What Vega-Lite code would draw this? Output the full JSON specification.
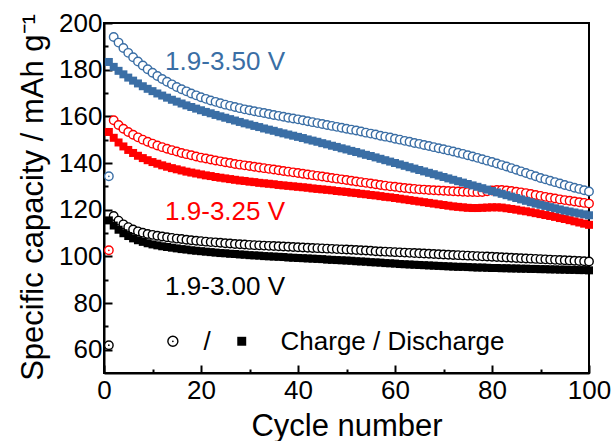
{
"$schema":"https://vega.github.io/schema/vega-lite/v6.json",
"width":485,"height":350,
"autosize":{"type":"none"},
"padding":{"left":104,"top":23,"right":24,"bottom":68},
"config":{"view":{"stroke":"#000","strokeWidth":2},"font":"Liberation Sans"},
"datasets":{
"b_c":[{"c":1,"v":134.3},{"c":2,"v":194},{"c":3,"v":191.6},{"c":4,"v":189.3},{"c":5,"v":187.2},{"c":6,"v":185.3},{"c":7,"v":183.5},{"c":8,"v":181.8},{"c":9,"v":180.2},{"c":10,"v":178.7},{"c":11,"v":177.3},{"c":12,"v":176.0},{"c":13,"v":174.8},{"c":14,"v":173.7},{"c":15,"v":172.6},{"c":16,"v":171.6},{"c":17,"v":170.7},{"c":18,"v":169.8},{"c":19,"v":169.0},{"c":20,"v":168.2},{"c":21,"v":167.5},{"c":22,"v":166.8},{"c":23,"v":166.2},{"c":24,"v":165.6},{"c":25,"v":165.0},{"c":26,"v":164.5},{"c":27,"v":164.0},{"c":28,"v":163.5},{"c":29,"v":163.0},{"c":30,"v":162.6},{"c":31,"v":162.2},{"c":32,"v":161.8},{"c":33,"v":161.4},{"c":34,"v":161.0},{"c":35,"v":160.6},{"c":36,"v":160.2},{"c":37,"v":159.8},{"c":38,"v":159.4},{"c":39,"v":159.1},{"c":40,"v":158.7},{"c":41,"v":158.3},{"c":42,"v":157.9},{"c":43,"v":157.5},{"c":44,"v":157.1},{"c":45,"v":156.7},{"c":46,"v":156.3},{"c":47,"v":155.9},{"c":48,"v":155.5},{"c":49,"v":155.1},{"c":50,"v":154.7},{"c":51,"v":154.3},{"c":52,"v":153.9},{"c":53,"v":153.5},{"c":54,"v":153.0},{"c":55,"v":152.6},{"c":56,"v":152.2},{"c":57,"v":151.7},{"c":58,"v":151.3},{"c":59,"v":150.9},{"c":60,"v":150.4},{"c":61,"v":150.0},{"c":62,"v":149.5},{"c":63,"v":149.1},{"c":64,"v":148.6},{"c":65,"v":148.2},{"c":66,"v":147.7},{"c":67,"v":147.3},{"c":68,"v":146.8},{"c":69,"v":146.3},{"c":70,"v":145.9},{"c":71,"v":145.4},{"c":72,"v":144.9},{"c":73,"v":144.4},{"c":74,"v":143.9},{"c":75,"v":143.3},{"c":76,"v":142.8},{"c":77,"v":142.2},{"c":78,"v":141.6},{"c":79,"v":141.0},{"c":80,"v":140.4},{"c":81,"v":139.8},{"c":82,"v":139.1},{"c":83,"v":138.5},{"c":84,"v":137.8},{"c":85,"v":137.1},{"c":86,"v":136.4},{"c":87,"v":135.7},{"c":88,"v":135.0},{"c":89,"v":134.3},{"c":90,"v":133.6},{"c":91,"v":133.0},{"c":92,"v":132.4},{"c":93,"v":131.8},{"c":94,"v":131.2},{"c":95,"v":130.6},{"c":96,"v":130.0},{"c":97,"v":129.4},{"c":98,"v":128.9},{"c":99,"v":128.3},{"c":100,"v":127.8}],
"b_d":[{"c":1,"v":183.3},{"c":2,"v":181.2},{"c":3,"v":179.5},{"c":4,"v":178.0},{"c":5,"v":176.6},{"c":6,"v":175.3},{"c":7,"v":174.1},{"c":8,"v":172.9},{"c":9,"v":171.8},{"c":10,"v":170.8},{"c":11,"v":169.8},{"c":12,"v":168.9},{"c":13,"v":168.0},{"c":14,"v":167.1},{"c":15,"v":166.3},{"c":16,"v":165.5},{"c":17,"v":164.7},{"c":18,"v":164.0},{"c":19,"v":163.3},{"c":20,"v":162.6},{"c":21,"v":161.9},{"c":22,"v":161.3},{"c":23,"v":160.6},{"c":24,"v":160.0},{"c":25,"v":159.4},{"c":26,"v":158.8},{"c":27,"v":158.2},{"c":28,"v":157.6},{"c":29,"v":157.0},{"c":30,"v":156.5},{"c":31,"v":155.9},{"c":32,"v":155.4},{"c":33,"v":154.8},{"c":34,"v":154.3},{"c":35,"v":153.8},{"c":36,"v":153.2},{"c":37,"v":152.7},{"c":38,"v":152.2},{"c":39,"v":151.7},{"c":40,"v":151.2},{"c":41,"v":150.7},{"c":42,"v":150.1},{"c":43,"v":149.6},{"c":44,"v":149.1},{"c":45,"v":148.5},{"c":46,"v":148.0},{"c":47,"v":147.4},{"c":48,"v":146.9},{"c":49,"v":146.3},{"c":50,"v":145.8},{"c":51,"v":145.2},{"c":52,"v":144.7},{"c":53,"v":144.1},{"c":54,"v":143.5},{"c":55,"v":143.0},{"c":56,"v":142.4},{"c":57,"v":141.8},{"c":58,"v":141.2},{"c":59,"v":140.6},{"c":60,"v":140.0},{"c":61,"v":139.4},{"c":62,"v":138.8},{"c":63,"v":138.2},{"c":64,"v":137.6},{"c":65,"v":137.0},{"c":66,"v":136.4},{"c":67,"v":135.8},{"c":68,"v":135.2},{"c":69,"v":134.6},{"c":70,"v":134.0},{"c":71,"v":133.4},{"c":72,"v":132.8},{"c":73,"v":132.2},{"c":74,"v":131.6},{"c":75,"v":131.0},{"c":76,"v":130.4},{"c":77,"v":129.8},{"c":78,"v":129.2},{"c":79,"v":128.6},{"c":80,"v":128.0},{"c":81,"v":127.4},{"c":82,"v":126.8},{"c":83,"v":126.2},{"c":84,"v":125.6},{"c":85,"v":125.0},{"c":86,"v":124.4},{"c":87,"v":123.8},{"c":88,"v":123.2},{"c":89,"v":122.6},{"c":90,"v":122.1},{"c":91,"v":121.6},{"c":92,"v":121.1},{"c":93,"v":120.6},{"c":94,"v":120.1},{"c":95,"v":119.6},{"c":96,"v":119.2},{"c":97,"v":118.8},{"c":98,"v":118.4},{"c":99,"v":118.0},{"c":100,"v":117.6}],
"r_c":[{"c":1,"v":102.6},{"c":2,"v":158.3},{"c":3,"v":156.3},{"c":4,"v":154.7},{"c":5,"v":153.3},{"c":6,"v":152.1},{"c":7,"v":151.0},{"c":8,"v":150.0},{"c":9,"v":149.1},{"c":10,"v":148.3},{"c":11,"v":147.5},{"c":12,"v":146.8},{"c":13,"v":146.1},{"c":14,"v":145.5},{"c":15,"v":144.9},{"c":16,"v":144.3},{"c":17,"v":143.8},{"c":18,"v":143.3},{"c":19,"v":142.8},{"c":20,"v":142.3},{"c":21,"v":141.9},{"c":22,"v":141.5},{"c":23,"v":141.1},{"c":24,"v":140.7},{"c":25,"v":140.3},{"c":26,"v":140.0},{"c":27,"v":139.6},{"c":28,"v":139.3},{"c":29,"v":139.0},{"c":30,"v":138.7},{"c":31,"v":138.4},{"c":32,"v":138.1},{"c":33,"v":137.8},{"c":34,"v":137.5},{"c":35,"v":137.2},{"c":36,"v":136.9},{"c":37,"v":136.6},{"c":38,"v":136.3},{"c":39,"v":136.0},{"c":40,"v":135.7},{"c":41,"v":135.4},{"c":42,"v":135.1},{"c":43,"v":134.8},{"c":44,"v":134.5},{"c":45,"v":134.2},{"c":46,"v":133.9},{"c":47,"v":133.6},{"c":48,"v":133.3},{"c":49,"v":133.0},{"c":50,"v":132.7},{"c":51,"v":132.4},{"c":52,"v":132.1},{"c":53,"v":131.8},{"c":54,"v":131.5},{"c":55,"v":131.2},{"c":56,"v":130.9},{"c":57,"v":130.6},{"c":58,"v":130.3},{"c":59,"v":130.0},{"c":60,"v":129.8},{"c":61,"v":129.5},{"c":62,"v":129.3},{"c":63,"v":129.1},{"c":64,"v":128.9},{"c":65,"v":128.7},{"c":66,"v":128.6},{"c":67,"v":128.4},{"c":68,"v":128.3},{"c":69,"v":128.2},{"c":70,"v":128.1},{"c":71,"v":128.0},{"c":72,"v":127.9},{"c":73,"v":127.8},{"c":74,"v":127.7},{"c":75,"v":127.6},{"c":76,"v":127.6},{"c":77,"v":127.5},{"c":78,"v":127.6},{"c":79,"v":127.9},{"c":80,"v":128.2},{"c":81,"v":128.4},{"c":82,"v":128.4},{"c":83,"v":128.2},{"c":84,"v":128.0},{"c":85,"v":127.7},{"c":86,"v":127.4},{"c":87,"v":127.1},{"c":88,"v":126.7},{"c":89,"v":126.3},{"c":90,"v":125.9},{"c":91,"v":125.5},{"c":92,"v":125.1},{"c":93,"v":124.8},{"c":94,"v":124.4},{"c":95,"v":124.1},{"c":96,"v":123.8},{"c":97,"v":123.5},{"c":98,"v":123.2},{"c":99,"v":122.9},{"c":100,"v":122.6}],
"r_d":[{"c":1,"v":153.3},{"c":2,"v":150.8},{"c":3,"v":148.8},{"c":4,"v":147.1},{"c":5,"v":145.6},{"c":6,"v":144.3},{"c":7,"v":143.1},{"c":8,"v":142.1},{"c":9,"v":141.2},{"c":10,"v":140.4},{"c":11,"v":139.7},{"c":12,"v":139.0},{"c":13,"v":138.4},{"c":14,"v":137.8},{"c":15,"v":137.3},{"c":16,"v":136.8},{"c":17,"v":136.3},{"c":18,"v":135.9},{"c":19,"v":135.5},{"c":20,"v":135.1},{"c":21,"v":134.7},{"c":22,"v":134.4},{"c":23,"v":134.0},{"c":24,"v":133.7},{"c":25,"v":133.4},{"c":26,"v":133.1},{"c":27,"v":132.8},{"c":28,"v":132.5},{"c":29,"v":132.3},{"c":30,"v":132.0},{"c":31,"v":131.8},{"c":32,"v":131.5},{"c":33,"v":131.3},{"c":34,"v":131.1},{"c":35,"v":130.9},{"c":36,"v":130.6},{"c":37,"v":130.4},{"c":38,"v":130.2},{"c":39,"v":130.0},{"c":40,"v":129.8},{"c":41,"v":129.6},{"c":42,"v":129.4},{"c":43,"v":129.1},{"c":44,"v":128.9},{"c":45,"v":128.7},{"c":46,"v":128.5},{"c":47,"v":128.3},{"c":48,"v":128.0},{"c":49,"v":127.8},{"c":50,"v":127.6},{"c":51,"v":127.3},{"c":52,"v":127.1},{"c":53,"v":126.8},{"c":54,"v":126.6},{"c":55,"v":126.3},{"c":56,"v":126.1},{"c":57,"v":125.8},{"c":58,"v":125.5},{"c":59,"v":125.3},{"c":60,"v":125.0},{"c":61,"v":124.7},{"c":62,"v":124.4},{"c":63,"v":124.1},{"c":64,"v":123.8},{"c":65,"v":123.5},{"c":66,"v":123.2},{"c":67,"v":122.9},{"c":68,"v":122.6},{"c":69,"v":122.3},{"c":70,"v":122.0},{"c":71,"v":121.7},{"c":72,"v":121.4},{"c":73,"v":121.2},{"c":74,"v":121.0},{"c":75,"v":120.8},{"c":76,"v":120.7},{"c":77,"v":120.7},{"c":78,"v":120.8},{"c":79,"v":120.9},{"c":80,"v":121.0},{"c":81,"v":121.0},{"c":82,"v":120.9},{"c":83,"v":120.6},{"c":84,"v":120.3},{"c":85,"v":120.0},{"c":86,"v":119.6},{"c":87,"v":119.3},{"c":88,"v":118.9},{"c":89,"v":118.5},{"c":90,"v":118.1},{"c":91,"v":117.7},{"c":92,"v":117.3},{"c":93,"v":116.9},{"c":94,"v":116.4},{"c":95,"v":116.0},{"c":96,"v":115.5},{"c":97,"v":115.0},{"c":98,"v":114.5},{"c":99,"v":114.0},{"c":100,"v":113.5}],
"k_c":[{"c":1,"v":61.9},{"c":2,"v":117.3},{"c":3,"v":115.3},{"c":4,"v":113.7},{"c":5,"v":112.5},{"c":6,"v":111.5},{"c":7,"v":110.7},{"c":8,"v":110.1},{"c":9,"v":109.6},{"c":10,"v":109.2},{"c":11,"v":108.8},{"c":12,"v":108.5},{"c":13,"v":108.2},{"c":14,"v":107.9},{"c":15,"v":107.6},{"c":16,"v":107.4},{"c":17,"v":107.1},{"c":18,"v":106.9},{"c":19,"v":106.7},{"c":20,"v":106.5},{"c":21,"v":106.3},{"c":22,"v":106.1},{"c":23,"v":106.0},{"c":24,"v":105.8},{"c":25,"v":105.6},{"c":26,"v":105.5},{"c":27,"v":105.3},{"c":28,"v":105.2},{"c":29,"v":105.1},{"c":30,"v":104.9},{"c":31,"v":104.8},{"c":32,"v":104.7},{"c":33,"v":104.6},{"c":34,"v":104.5},{"c":35,"v":104.4},{"c":36,"v":104.3},{"c":37,"v":104.2},{"c":38,"v":104.1},{"c":39,"v":104.0},{"c":40,"v":103.9},{"c":41,"v":103.8},{"c":42,"v":103.7},{"c":43,"v":103.6},{"c":44,"v":103.5},{"c":45,"v":103.4},{"c":46,"v":103.3},{"c":47,"v":103.2},{"c":48,"v":103.1},{"c":49,"v":103.0},{"c":50,"v":102.9},{"c":51,"v":102.8},{"c":52,"v":102.7},{"c":53,"v":102.6},{"c":54,"v":102.5},{"c":55,"v":102.4},{"c":56,"v":102.2},{"c":57,"v":102.1},{"c":58,"v":102.0},{"c":59,"v":101.9},{"c":60,"v":101.8},{"c":61,"v":101.7},{"c":62,"v":101.6},{"c":63,"v":101.5},{"c":64,"v":101.4},{"c":65,"v":101.3},{"c":66,"v":101.2},{"c":67,"v":101.1},{"c":68,"v":101.0},{"c":69,"v":100.9},{"c":70,"v":100.8},{"c":71,"v":100.7},{"c":72,"v":100.6},{"c":73,"v":100.5},{"c":74,"v":100.4},{"c":75,"v":100.3},{"c":76,"v":100.2},{"c":77,"v":100.1},{"c":78,"v":100.0},{"c":79,"v":99.9},{"c":80,"v":99.8},{"c":81,"v":99.7},{"c":82,"v":99.6},{"c":83,"v":99.5},{"c":84,"v":99.4},{"c":85,"v":99.3},{"c":86,"v":99.2},{"c":87,"v":99.1},{"c":88,"v":99.0},{"c":89,"v":98.9},{"c":90,"v":98.8},{"c":91,"v":98.7},{"c":92,"v":98.6},{"c":93,"v":98.5},{"c":94,"v":98.4},{"c":95,"v":98.3},{"c":96,"v":98.2},{"c":97,"v":98.1},{"c":98,"v":98.0},{"c":99,"v":97.9},{"c":100,"v":97.8}],
"k_d":[{"c":1,"v":115.4},{"c":2,"v":113.2},{"c":3,"v":111.4},{"c":4,"v":109.9},{"c":5,"v":108.7},{"c":6,"v":107.7},{"c":7,"v":106.9},{"c":8,"v":106.2},{"c":9,"v":105.6},{"c":10,"v":105.1},{"c":11,"v":104.7},{"c":12,"v":104.3},{"c":13,"v":104.0},{"c":14,"v":103.7},{"c":15,"v":103.4},{"c":16,"v":103.1},{"c":17,"v":102.9},{"c":18,"v":102.6},{"c":19,"v":102.4},{"c":20,"v":102.2},{"c":21,"v":102.0},{"c":22,"v":101.8},{"c":23,"v":101.6},{"c":24,"v":101.4},{"c":25,"v":101.3},{"c":26,"v":101.1},{"c":27,"v":101.0},{"c":28,"v":100.8},{"c":29,"v":100.7},{"c":30,"v":100.5},{"c":31,"v":100.4},{"c":32,"v":100.3},{"c":33,"v":100.1},{"c":34,"v":100.0},{"c":35,"v":99.9},{"c":36,"v":99.8},{"c":37,"v":99.7},{"c":38,"v":99.5},{"c":39,"v":99.4},{"c":40,"v":99.3},{"c":41,"v":99.2},{"c":42,"v":99.1},{"c":43,"v":99.0},{"c":44,"v":98.9},{"c":45,"v":98.8},{"c":46,"v":98.6},{"c":47,"v":98.5},{"c":48,"v":98.4},{"c":49,"v":98.3},{"c":50,"v":98.2},{"c":51,"v":98.1},{"c":52,"v":97.9},{"c":53,"v":97.8},{"c":54,"v":97.7},{"c":55,"v":97.5},{"c":56,"v":97.4},{"c":57,"v":97.3},{"c":58,"v":97.1},{"c":59,"v":97.0},{"c":60,"v":96.9},{"c":61,"v":96.7},{"c":62,"v":96.6},{"c":63,"v":96.5},{"c":64,"v":96.4},{"c":65,"v":96.3},{"c":66,"v":96.2},{"c":67,"v":96.1},{"c":68,"v":96.0},{"c":69,"v":95.9},{"c":70,"v":95.8},{"c":71,"v":95.7},{"c":72,"v":95.6},{"c":73,"v":95.5},{"c":74,"v":95.5},{"c":75,"v":95.4},{"c":76,"v":95.3},{"c":77,"v":95.2},{"c":78,"v":95.2},{"c":79,"v":95.1},{"c":80,"v":95.0},{"c":81,"v":95.0},{"c":82,"v":94.9},{"c":83,"v":94.9},{"c":84,"v":94.8},{"c":85,"v":94.8},{"c":86,"v":94.7},{"c":87,"v":94.7},{"c":88,"v":94.6},{"c":89,"v":94.6},{"c":90,"v":94.5},{"c":91,"v":94.5},{"c":92,"v":94.4},{"c":93,"v":94.4},{"c":94,"v":94.3},{"c":95,"v":94.3},{"c":96,"v":94.2},{"c":97,"v":94.2},{"c":98,"v":94.1},{"c":99,"v":94.1},{"c":100,"v":94.0}],
"keyC":[{"c":14.2,"v":63.6}],
"keyD":[{"c":28.4,"v":63.6}],
"labels":[{"c":12.6,"v":179.7,"t":"1.9-3.50 V","g":"b"},{"c":12.6,"v":115.4,"t":"1.9-3.25 V","g":"r"},{"c":12.6,"v":83.3,"t":"1.9-3.00 V","g":"k"},{"c":20.5,"v":59.7,"t":"/","g":"k"},{"c":36.4,"v":59.7,"t":"Charge / Discharge","g":"k"}]
},
"encoding":{
"x":{"field":"c","type":"quantitative","scale":{"domain":[0,100],"nice":false,"zero":false},
 "axis":{"values":[0,10,20,30,40,50,60,70,80,90,100],"labelExpr":"datum.value % 20 === 0 ? datum.label : ''",
 "tickSize":{"condition":{"test":"datum.value % 20 === 0","value":-8},"value":-4},
 "tickColor":"#000","tickWidth":2,"domainColor":"#000","domainWidth":2,"grid":false,
 "labelFontSize":26,"labelColor":"#000","labelPadding":12,"labelFlush":false,"labelOverlap":false,"labelFont":"Liberation Sans",
 "title":"Cycle number","titleFontSize":31,"titleFontWeight":"normal","titleColor":"#000","titleFont":"Liberation Sans",
 "titleX":242.5,"titleY":62,"titleBaseline":"alphabetic","titleAlign":"center"}},
"y":{"field":"v","type":"quantitative","scale":{"domain":[50,200],"nice":false,"zero":false},
 "axis":{"values":[60,70,80,90,100,110,120,130,140,150,160,170,180,190,200],"labelExpr":"datum.value % 20 === 0 ? datum.label : ''",
 "tickSize":{"condition":{"test":"datum.value % 20 === 0","value":-8},"value":-4},
 "tickColor":"#000","tickWidth":2,"domainColor":"#000","domainWidth":2,"grid":false,
 "labelFontSize":26,"labelColor":"#000","labelPadding":10,"labelFlush":false,"labelOverlap":false,"labelFont":"Liberation Sans",
 "title":"Specific capacity / mAh g⁻¹","titleFontSize":31,"titleFontWeight":"normal","titleColor":"#000","titleFont":"Liberation Sans",
 "titleX":-62,"titleY":174,"titleAngle":-90,"titleBaseline":"alphabetic","titleAlign":"center"}}
},
"layer":[
{"data":{"name":"k_c"},"mark":{"type":"point","shape":"circle","filled":true,"fill":"#fff","stroke":"#000","strokeWidth":1.4,"size":72,"opacity":1}},
{"data":{"name":"k_c"},"transform":[{"filter":"datum.c === 1"}],"mark":{"type":"circle","size":3,"color":"#000","opacity":1}},
{"data":{"name":"k_d"},"mark":{"type":"square","size":64,"color":"#000","opacity":1}},
{"data":{"name":"r_c"},"mark":{"type":"point","shape":"circle","filled":true,"fill":"#fff","stroke":"#ff0000","strokeWidth":1.4,"size":72,"opacity":1}},
{"data":{"name":"r_c"},"transform":[{"filter":"datum.c === 1"}],"mark":{"type":"circle","size":3,"color":"#ff0000","opacity":1}},
{"data":{"name":"r_d"},"mark":{"type":"square","size":64,"color":"#ff0000","opacity":1}},
{"data":{"name":"b_c"},"mark":{"type":"point","shape":"circle","filled":true,"fill":"#fff","stroke":"#3a6ea5","strokeWidth":1.4,"size":72,"opacity":1}},
{"data":{"name":"b_c"},"transform":[{"filter":"datum.c === 1"}],"mark":{"type":"circle","size":3,"color":"#3a6ea5","opacity":1}},
{"data":{"name":"b_d"},"mark":{"type":"square","size":64,"color":"#3a6ea5","opacity":1}},
{"data":{"name":"keyC"},"mark":{"type":"point","shape":"circle","filled":true,"fill":"#fff","stroke":"#000","strokeWidth":1.4,"size":100,"opacity":1}},
{"data":{"name":"keyC"},"mark":{"type":"circle","size":3,"color":"#000","opacity":1}},
{"data":{"name":"keyD"},"mark":{"type":"square","size":80,"color":"#000","opacity":1}},
{"data":{"name":"labels"},"mark":{"type":"text","align":"left","baseline":"alphabetic","fontSize":26,"font":"Liberation Sans"},
 "encoding":{"text":{"field":"t"},"color":{"field":"g","type":"nominal","scale":{"domain":["b","r","k"],"range":["#3a6ea5","#ff0000","#000000"]},"legend":null}}}
]
}
